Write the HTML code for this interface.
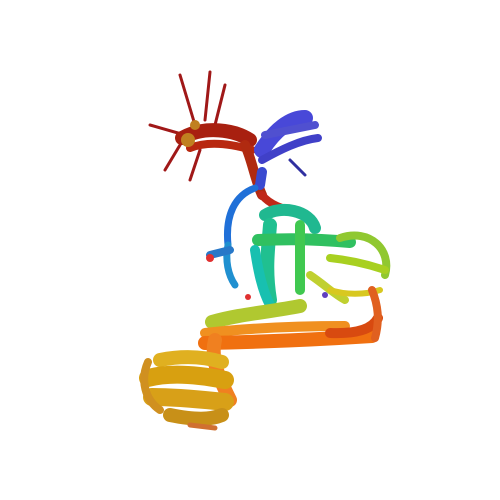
<!DOCTYPE html>
<html><head><meta charset="utf-8"><style>
html,body{margin:0;padding:0;background:#fff;width:500px;height:500px;overflow:hidden}
</style></head><body>
<svg width="500" height="500" viewBox="0 0 500 500" fill="none" stroke-linecap="round" stroke-linejoin="round">
<g stroke="#a01818">
<path d="M180 75 L195 125" stroke-width="3"/>
<path d="M210 72 L205 120" stroke-width="3"/>
<path d="M150 125 L185 135" stroke-width="3"/>
<path d="M165 170 L180 145" stroke-width="3"/>
<path d="M200 150 L190 180" stroke-width="3"/>
<path d="M225 85 L215 125" stroke-width="3"/>
<path d="M182 138 C205 125 235 130 250 140" stroke="#a82010" stroke-width="14"/>
<path d="M190 148 C210 140 235 145 252 150" stroke="#b82810" stroke-width="8"/>
<path d="M245 145 C252 160 255 180 262 195" stroke="#b02a10" stroke-width="10"/>
<path d="M262 195 C270 205 285 210 300 212" stroke="#c02818" stroke-width="8"/>
<circle cx="188" cy="140" r="7" fill="#c08020" stroke="none"/>
<circle cx="195" cy="125" r="5" fill="#c08020" stroke="none"/>
</g>
<g>
<path d="M262 150 C275 130 290 118 305 118" stroke="#4848d8" stroke-width="16"/>
<path d="M265 135 L315 125" stroke="#5050d0" stroke-width="8"/>
<path d="M262 160 C280 150 300 140 318 138" stroke="#4040c8" stroke-width="8"/>
<path d="M290 160 L305 175" stroke="#3030a0" stroke-width="3"/>
<path d="M262 172 L260 185" stroke="#3a4ad0" stroke-width="10"/>
<path d="M255 188 C235 195 225 215 228 245" stroke="#2070d8" stroke-width="7"/>
<path d="M228 245 C225 260 228 275 235 285" stroke="#2090d0" stroke-width="7"/>
<path d="M210 255 L230 250" stroke="#2878c8" stroke-width="8"/>
</g>
<g>
<path d="M265 215 C280 205 310 210 315 228" stroke="#20b890" stroke-width="12"/>
<path d="M270 225 C268 250 265 270 270 300" stroke="#20c090" stroke-width="14"/>
<path d="M258 240 C300 238 330 240 350 242" stroke="#30c060" stroke-width="12"/>
<path d="M300 225 C300 250 300 270 300 290" stroke="#40c850" stroke-width="10"/>
<path d="M255 250 C258 270 262 290 270 305" stroke="#18c0b0" stroke-width="10"/>
</g>
<g>
<path d="M340 238 C370 228 392 250 385 275" stroke="#90c830" stroke-width="8"/>
<path d="M330 258 C350 260 370 265 385 270" stroke="#a8d020" stroke-width="8"/>
<path d="M310 275 C325 285 335 295 345 300" stroke="#c0d030" stroke-width="8"/>
<path d="M330 290 C345 295 365 295 380 290" stroke="#d8c820" stroke-width="6"/>
<path d="M212 322 C240 314 270 312 300 306" stroke="#b0c830" stroke-width="14"/>
</g>
<g>
<path d="M205 333 C250 328 300 326 345 326" stroke="#f09020" stroke-width="10"/>
<path d="M205 343 C260 342 310 340 372 336" stroke="#f07010" stroke-width="14"/>
<path d="M330 333 C355 334 372 330 378 318" stroke="#d84a10" stroke-width="10"/>
<path d="M372 290 C378 305 380 320 375 338" stroke="#e06020" stroke-width="8"/>
<path d="M215 340 C210 360 220 380 230 400" stroke="#f08020" stroke-width="14"/>
</g>
<g>
<path d="M160 360 C185 355 205 357 222 362" stroke="#e0b020" stroke-width="14"/>
<path d="M148 378 C170 372 200 375 225 380" stroke="#d8a010" stroke-width="18"/>
<path d="M152 397 C180 397 205 400 225 402" stroke="#d8a018" stroke-width="18"/>
<path d="M170 415 C195 420 210 420 222 415" stroke="#c89018" stroke-width="14"/>
<path d="M148 362 C140 380 145 400 160 410" stroke="#d09020" stroke-width="8"/>
<path d="M190 425 L215 428" stroke="#d07030" stroke-width="5"/>
</g>
<g fill="#e03030" stroke="none">
<circle cx="210" cy="258" r="4"/><circle cx="248" cy="297" r="3"/><circle cx="325" cy="295" r="3" fill="#6040c0"/>
</g>
</svg>
</body></html>
